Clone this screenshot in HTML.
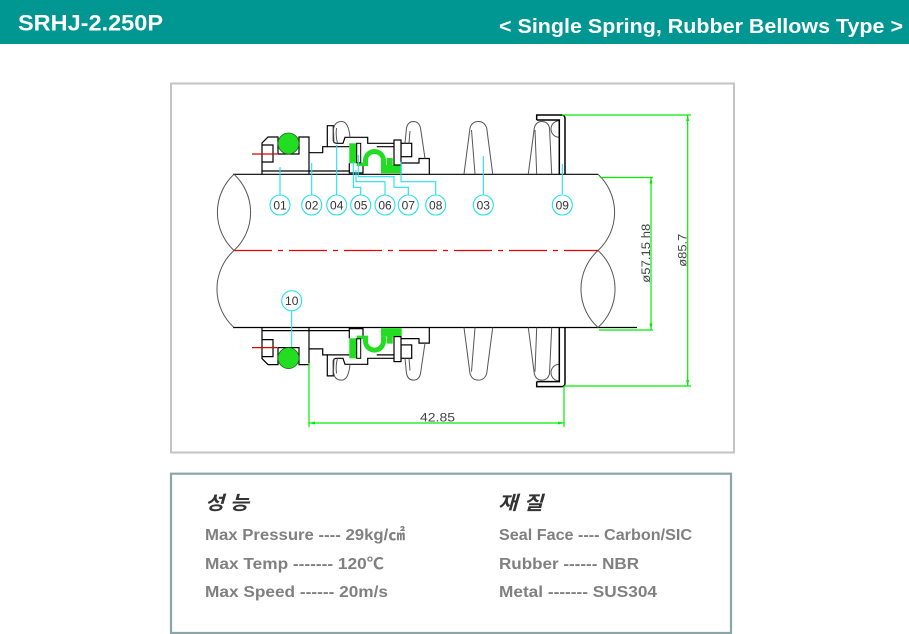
<!DOCTYPE html>
<html><head><meta charset="utf-8"><style>
html,body{margin:0;padding:0;background:#fff;}
svg{display:block}
</style></head><body>
<svg width="909" height="634" viewBox="0 0 909 634" xmlns="http://www.w3.org/2000/svg" xmlns:xlink="http://www.w3.org/1999/xlink">
<!-- header -->
<rect x="0" y="0" width="909" height="44" fill="#009692"/>
<text x="18" y="30.5" font-family="Liberation Sans, sans-serif" font-weight="bold" font-size="22" fill="#fff" textLength="145" lengthAdjust="spacingAndGlyphs">SRHJ-2.250P</text>
<text x="499" y="33" font-family="Liberation Sans, sans-serif" font-weight="bold" font-size="20" fill="#fff" textLength="404" lengthAdjust="spacingAndGlyphs">&lt; Single Spring, Rubber Bellows Type &gt;</text>

<!-- drawing frame -->
<rect x="171" y="83.5" width="563" height="369" fill="none" stroke="#c3c3c3" stroke-width="2"/>

<!-- shaft -->
<g fill="none" stroke="#000" stroke-width="1.2">
<path d="M233,174.3 L598,174.3 M233,327.5 L637,327.5"/>
</g>
<g fill="none" stroke="#555" stroke-width="1">
<path d="M234,174.3 A52,52 0 0 0 234,250.5 M234,174.3 A52,52 0 0 1 234,250.5 M234,250.5 A52,52 0 0 0 234,327.5"/>
<path d="M598,174.3 A52,52 0 0 1 598,250.5 M598,250.5 A52,52 0 0 0 598,327.5 M598,250.5 A52,52 0 0 1 598,327.5"/>
</g>
<path d="M234,250.5 L598,250.5" stroke="#ee0000" stroke-width="1.2" stroke-dasharray="38 6 5 6" fill="none"/>

<!-- seal top half -->
<g id="seal">
 <g fill="none" stroke="#000" stroke-width="1.2">
  <path d="M262,174 L262,143 L268,137 L278,137 L278,154 L299,154 L299,137 L309,137 L309,174"/>
  <path d="M262,145 L273,145 L273,162 L262,162 M262,171 L349,171"/>
  <path d="M309,152.7 L322.7,152.7 L322.7,146.7 L327.3,146.7 L327.3,125.7 L333.3,125.7 L333.3,141 Q334,143.3 337,143.3 L343,143.3 L345,137.3 L367.7,137.3 L367.7,143.3 L394,143.3"/>
  <path d="M327.3,146.7 L349.3,146.7 M376.7,146.7 L394,146.7"/>
  <rect x="401" y="143.3" width="10.7" height="13.4"/>
  <path d="M401,163 L419,163 L419,158.5 L429.3,158.5 L429.3,174"/>
 </g>
 <path d="M252,154 L277,154" stroke="#e00000" stroke-width="1.2"/>
 <circle cx="288.5" cy="143.5" r="10.5" fill="#22dd22" stroke="#1b6b1b" stroke-width="0.8"/>
 <!-- green bellows -->
 <g fill="#22dd22">
  <rect x="349.3" y="143.3" width="7.4" height="20"/>
  <rect x="356.7" y="162.5" width="7" height="3.5"/>
  <path d="M363,166 L363,160.5 A11.5,11.5 0 0 1 386,160.5 L386,165 L381,165 L381,160.5 A6.5,6.5 0 0 0 368,160.5 L368,166 Z"/>
  <path d="M381,165 L386.7,165 L386.7,158 L392.7,158 L392.7,165 L401.7,165 L401.7,173.3 L381,173.3 Z"/>
 </g>
 <rect x="356.7" y="143.3" width="4" height="19.5" fill="#fff" stroke="#000" stroke-width="1"/>
 <path d="M349.3,163.3 L349.3,173 L363,173 L363,166" fill="none" stroke="#000" stroke-width="1.2"/>
 <rect x="394" y="140" width="7" height="25" fill="#fff" stroke="#000" stroke-width="1.2"/>
 <!-- springs -->
 <g fill="none" stroke="#555" stroke-width="1">
  <path d="M334,143.3 L333.5,130 Q334,121.5 341.7,121.5 Q348.5,121.5 350,137.3 M337.5,143.3 Q335.5,136 336.5,128"/>
  <path d="M405,143.3 L406.5,128 Q408,121.5 413.3,121.5 Q419,121.5 420.5,128 L425,158.5 M409,143.3 L410,131"/>
  <path d="M464,174 L470,128 Q472,121.5 478.3,121.5 Q484.5,121.5 486.7,128 L492.7,174 M475,174 L471.5,130"/>
  <path d="M528.3,174 L534.3,128 Q536,121.5 541.7,121.5 Q548,121.5 549.5,128 L551.7,174 M536.7,174 L535,130"/>
  <path d="M559.3,120.7 A8.3,8.3 0 0 0 559.3,137.3"/>
 </g>
 <g fill="none" stroke="#000" stroke-width="1.5">
  <path d="M536.7,120 L536.7,115 L562,115 Q565,115 565,119 L565,174.3"/>
  <path d="M536.7,120 L559.3,120 L559.3,174.3"/>
 </g>
</g>
<use xlink:href="#seal" href="#seal" transform="matrix(1 0 0 -1 0 501.6)"/>

<!-- dimension lines -->
<g fill="none" stroke="#00ee00" stroke-width="1.2">
 <path d="M309,423 L564,423 M309,363 L309,427 M564,386 L564,427"/>
 <path d="M600,177.5 L653,177.5 M651,177.5 L651,329.5 M599,330 L653,330"/>
 <path d="M562,115 L691,115 M687.7,115 L687.7,386 M564,386 L691,386"/>
</g>
<g fill="#00ee00">
 <path d="M309,423 L315,421.5 L315,424.5 Z"/>
 <path d="M564,423 L558,421.5 L558,424.5 Z"/>
 <path d="M651,177.5 L649.5,183.5 L652.5,183.5 Z"/>
 <path d="M651,329.5 L649.5,323.5 L652.5,323.5 Z"/>
 <path d="M687.7,115 L686.2,121 L689.2,121 Z"/>
 <path d="M687.7,386 L686.2,380 L689.2,380 Z"/>
</g>
<g font-family="Liberation Sans, sans-serif" font-size="11.5" fill="#444">
 <text x="420" y="421.5" textLength="35" lengthAdjust="spacingAndGlyphs">42.85</text>
 <text transform="translate(650,282.7) rotate(-90)" x="0" y="0" textLength="59" lengthAdjust="spacingAndGlyphs">ø57.15 h8</text>
 <text transform="translate(686.7,266.7) rotate(-90)" x="0" y="0" textLength="33" lengthAdjust="spacingAndGlyphs">ø85.7</text>
</g>

<!-- leaders -->
<g fill="none" stroke="#22e0f0" stroke-width="1.1">
 <path d="M280,195 L280,167"/>
 <path d="M311.7,195 L311.7,163"/>
 <path d="M336.7,195 L336.7,145"/>
 <path d="M353.3,161.7 L353.3,187.3 L360.7,187.3 L360.7,195"/>
 <path d="M356,170 L356,181.7 L385,181.7 L385,195"/>
 <path d="M358.3,155 L358.3,176.7 L394,176.7 L394,187.3 L408.3,187.3 L408.3,195"/>
 <path d="M401,161.7 L401,181.7 L435.7,181.7 L435.7,195"/>
 <path d="M483.3,156 L483.3,195"/>
 <path d="M562.3,164 L562.3,194"/>
 <path d="M291.7,310.7 L291.7,347"/>
 <circle cx="280" cy="205" r="10"/>
 <circle cx="311.7" cy="205" r="10"/>
 <circle cx="336.7" cy="205" r="10"/>
 <circle cx="360.7" cy="205" r="10"/>
 <circle cx="385" cy="205" r="10"/>
 <circle cx="408.3" cy="205" r="10"/>
 <circle cx="435.7" cy="205" r="10"/>
 <circle cx="483.3" cy="205" r="10"/>
 <circle cx="562.3" cy="205" r="10"/>
 <circle cx="291.7" cy="300.7" r="10"/>
</g>
<g font-family="Liberation Sans, sans-serif" font-size="12" fill="#333" text-anchor="middle">
 <text x="280" y="209.3">01</text>
 <text x="311.7" y="209.3">02</text>
 <text x="336.7" y="209.3">04</text>
 <text x="360.7" y="209.3">05</text>
 <text x="385" y="209.3">06</text>
 <text x="408.3" y="209.3">07</text>
 <text x="435.7" y="209.3">08</text>
 <text x="483.3" y="209.3">03</text>
 <text x="562.3" y="209.3">09</text>
 <text x="291.7" y="305">10</text>
</g>

<!-- spec box -->
<rect x="171" y="473.7" width="560" height="159.3" fill="none" stroke="#8ca5a7" stroke-width="2.2"/>
<g font-family="Liberation Sans, 'Noto Sans CJK KR', sans-serif" font-weight="bold" font-style="italic" font-size="19" fill="#333">
 <text x="205" y="509.5" textLength="44" lengthAdjust="spacingAndGlyphs">성 능</text>
 <text x="498" y="509.5" textLength="45" lengthAdjust="spacingAndGlyphs">재 질</text>
</g>
<g font-family="Liberation Sans, 'Noto Sans CJK KR', sans-serif" font-weight="bold" font-size="16" fill="#808080">
 <text x="205" y="540" textLength="200" lengthAdjust="spacingAndGlyphs">Max Pressure ---- 29kg/㎠</text>
 <text x="205" y="569" textLength="179" lengthAdjust="spacingAndGlyphs">Max Temp ------- 120℃</text>
 <text x="205" y="597" textLength="183" lengthAdjust="spacingAndGlyphs">Max Speed ------ 20m/s</text>
 <text x="499" y="540" textLength="193" lengthAdjust="spacingAndGlyphs">Seal Face ---- Carbon/SIC</text>
 <text x="499" y="569" textLength="140" lengthAdjust="spacingAndGlyphs">Rubber ------ NBR</text>
 <text x="499" y="597" textLength="158" lengthAdjust="spacingAndGlyphs">Metal ------- SUS304</text>
</g>
</svg>
</body></html>
